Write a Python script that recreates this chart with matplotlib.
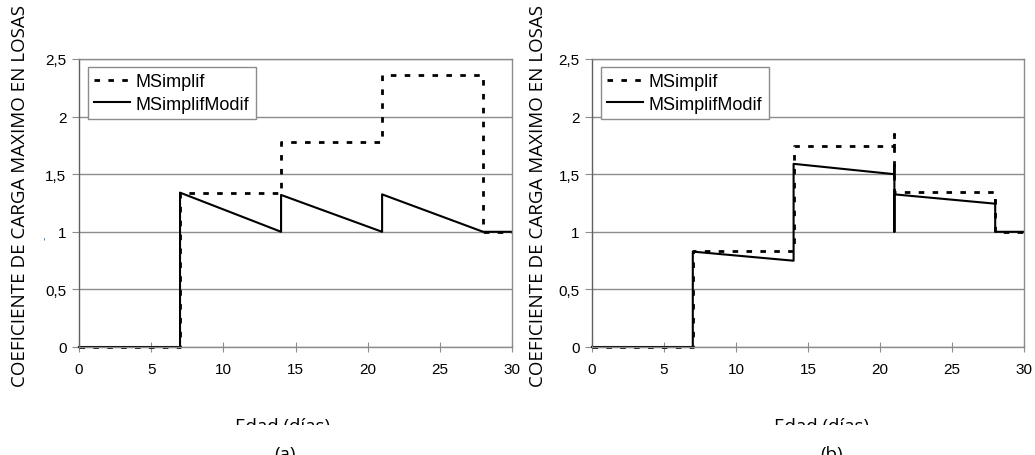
import matplotlib
matplotlib.use("Agg")
import matplotlib.pyplot as plt
from matplotlib.patches import Rectangle
from matplotlib.ticker import FuncFormatter

# ---------------- data ----------------
# Panel (a)
a_simp_x = [0, 7, 7, 14, 14, 21, 21, 28, 28, 30]
a_simp_y = [0, 0, 1.34, 1.34, 1.78, 1.78, 2.36, 2.36, 1.0, 1.0]
a_mod_x = [0, 7, 7, 14, 14, 21, 21, 28, 30]
a_mod_y = [0, 0, 1.34, 1.0, 1.32, 1.0, 1.325, 1.0, 1.0]

# Panel (b)
b_simp_x = [0, 7, 7, 14, 14, 21, 21, 21, 28, 28, 30]
b_simp_y = [0, 0, 0.833, 0.833, 1.747, 1.747, 1.85, 1.343, 1.343, 1.0, 1.0]
b_mod_x = [0, 7, 7, 14, 14, 21, 21, 21, 21, 28, 28, 28, 30]
b_mod_y = [0, 0, 0.828, 0.749, 1.59, 1.50, 1.58, 1.0, 1.325, 1.244, 1.276, 1.0, 1.0]

x_ticks = [0, 5, 10, 15, 20, 25, 30]
y_ticks = [0, 0.5, 1.0, 1.5, 2.0, 2.5]
series_labels = ["MSimplif", "MSimplifModif"]
y_label = "COEFICIENTE DE CARGA MAXIMO EN LOSAS"
x_label = "Edad (días)"
panel_labels = ["(a)", "(b)"]

W, H = 1035, 456
fig = plt.figure(figsize=(W / 100, H / 100), dpi=100)
fig.patch.set_facecolor("white")

def fmt(v, pos):
    return ("%g" % v).replace(".", ",")

GRAY = "#8c8c8c"
tick_font = "Liberation Sans"
lab_font = ["Open Sans", "DejaVu Sans"]

panels = [
    (79, 512, a_simp_x, a_simp_y, a_mod_x, a_mod_y, (88, 68), 20, 283, 285),
    (592, 1024, b_simp_x, b_simp_y, b_mod_x, b_mod_y, (601, 68), 538, 822, 832),
]
y0_px, y1_px = 348, 60

for i, (xl, xr, sx, sy, mx, my, lg, ylab_x, xlab_x, plab_x) in enumerate(panels):
    ax = fig.add_axes([xl / W, (H - y0_px) / H, (xr - xl) / W, (y0_px - y1_px) / H])
    ax.set_xlim(0, 30)
    ax.set_ylim(0, 2.5)
    ax.set_xticks(x_ticks)
    ax.set_yticks(y_ticks)
    ax.yaxis.set_major_formatter(FuncFormatter(fmt))
    ax.grid(axis="y", color=GRAY, linewidth=1.0)
    ax.set_axisbelow(True)
    for sp in ax.spines.values():
        sp.set_color(GRAY)
        sp.set_linewidth(1.0)
    ax.spines["left"].set_color("#606060")
    ax.tick_params(axis="x", direction="inout", length=7, color=GRAY, labelsize=11, pad=7)
    ax.tick_params(axis="y", direction="out", length=5, color=GRAY, labelsize=11, pad=4)
    for lab in ax.get_xticklabels() + ax.get_yticklabels():
        lab.set_fontfamily(tick_font)

    l1, = ax.plot(sx, sy, color="black", linestyle=(0, (2, 3)), linewidth=2.0,
                  label=series_labels[0], clip_on=False)
    l2, = ax.plot(mx, my, color="black", linestyle="-", linewidth=1.5,
                  label=series_labels[1], clip_on=False)

    lx, ly = lg
    leg = ax.legend(handles=[l1, l2], loc="upper left",
                    bbox_to_anchor=((lx - xl) / (xr - xl), (y0_px - ly) / (y0_px - y1_px)),
                    frameon=True, fancybox=False, framealpha=1, edgecolor=GRAY,
                    prop={"family": tick_font, "size": 13}, handlelength=2.0,
                    handletextpad=0.3, borderaxespad=0, borderpad=0.35, labelspacing=0.3)
    leg.get_frame().set_linewidth(1.0)

    fig.text(ylab_x / W, 1 - 196 / H, y_label, rotation=90, ha="center", va="center",
             fontsize=13.5, family=lab_font, color="black")
    fig.text(xlab_x / W, 1 - 418 / H, x_label, ha="center", va="top",
             fontsize=13.5, family=lab_font, color="black")
    fig.text(plab_x / W, 1 - 446 / H, panel_labels[i], ha="center", va="top",
             fontsize=13.5, family=lab_font, color="black")

# white band hiding the lower part of the x labels (as in the source crop)
fig.patches.append(Rectangle((0, 1 - 440 / H), 1, (440 - 425.5) / H,
                             transform=fig.transFigure, facecolor="white",
                             edgecolor="none", zorder=10))

fig.text(45 / W, 1 - 238 / H, "-", rotation=90, ha="center", va="center",
         fontsize=7, color="#3070b0")

fig.savefig("out.png", dpi=100, facecolor="white")
